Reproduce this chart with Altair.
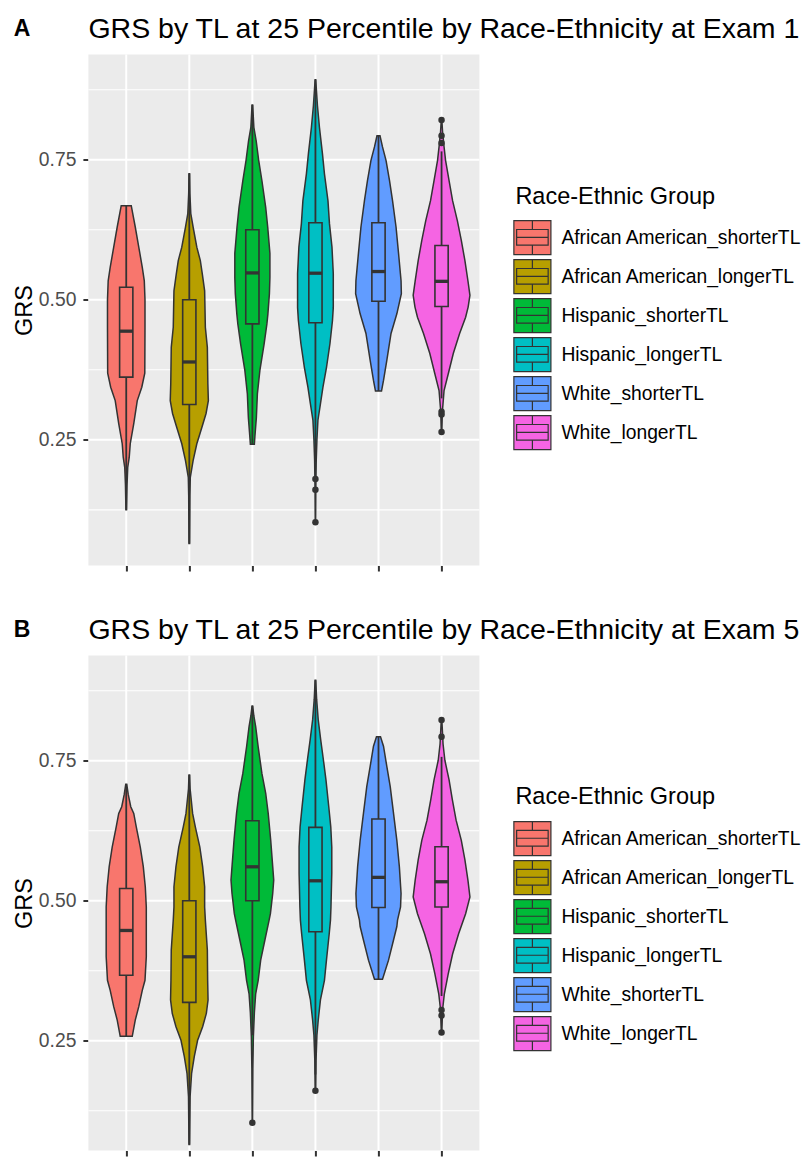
import altair as alt
import pandas as pd

GROUPS = ["African American_shorterTL", "African American_longerTL",
          "Hispanic_shorterTL", "Hispanic_longerTL",
          "White_shorterTL", "White_longerTL"]
COLORS = ["#F8766D", "#B79F00", "#00BA38", "#00BFC4", "#619CFF", "#F564E3"]
TITLES = ["GRS by TL at 25 Percentile by Race-Ethnicity at Exam 1",
          "GRS by TL at 25 Percentile by Race-Ethnicity at Exam 5"]
TAGS = ["A", "B"]
LEGEND_TITLE = "Race-Ethnic Group"
Y_TITLE = "GRS"
Y_TICKS = [0.25, 0.50, 0.75]
Y_MINOR = [0.125, 0.375, 0.625, 0.875]
X_TICKS = [1, 2, 3, 4, 5, 6]
X_RANGE = [0.4, 6.6]

# ---- Exam 1: violin outlines (GRS level, relative half width) ----
A_LEVELS = [
    [0.125, 0.17, 0.201, 0.219, 0.243, 0.279, 0.32, 0.344, 0.369, 0.45, 0.5, 0.534, 0.558, 0.594, 0.63, 0.668],
    [0.065, 0.15, 0.183, 0.213, 0.243, 0.272, 0.297, 0.32, 0.35, 0.415, 0.451, 0.516, 0.546, 0.57, 0.594, 0.63, 0.654, 0.69, 0.725],
    [0.242, 0.255, 0.29, 0.332, 0.374, 0.421, 0.457, 0.475, 0.511, 0.54, 0.583, 0.63, 0.665, 0.713, 0.749, 0.784, 0.808, 0.848],
    [0.103, 0.16, 0.213, 0.25, 0.285, 0.314, 0.344, 0.379, 0.422, 0.463, 0.486, 0.547, 0.594, 0.636, 0.677, 0.725, 0.761, 0.808, 0.847, 0.893],
    [0.337, 0.356, 0.392, 0.44, 0.475, 0.511, 0.534, 0.583, 0.63, 0.677, 0.713, 0.749, 0.773, 0.793],
    [0.264, 0.30, 0.338, 0.368, 0.404, 0.44, 0.469, 0.487, 0.508, 0.534, 0.57, 0.606, 0.641, 0.677, 0.713, 0.749, 0.773, 0.80, 0.821],
]
A_WIDTHS = [
    [0.3, 0.8, 1.5, 3, 4, 7.5, 11, 15.5, 18.5, 18.7, 18.7, 18, 16, 12.5, 9, 5],
    [0.3, 0.6, 1, 3.8, 7.5, 12.5, 16.7, 19, 18.5, 18, 16, 15.3, 13, 11, 7.5, 3.8, 1.5, 0.6, 0.3],
    [2, 2.5, 4, 5, 7.5, 11.7, 14.5, 15.5, 17, 17.5, 17.5, 15.3, 13.3, 9.5, 6.3, 3.8, 1.5, 0.3],
    [0.2, 0.4, 0.8, 1.5, 2.5, 5, 7.5, 11, 14.5, 17, 17.8, 17.8, 16.5, 14, 12.5, 9, 7, 4, 2, 0.3],
    [3, 5, 8.3, 12.5, 18.3, 22.8, 22.5, 20, 17.5, 14, 11, 7.5, 4, 1.5],
    [0.3, 0.8, 2.5, 6.7, 11.7, 18, 24, 26.5, 28.3, 26.3, 23.3, 19.7, 15.8, 11, 7.5, 4, 2.5, 1, 0.3],
]
A_LOWER = [0.125, 0.065, 0.242, 0.21, 0.337, 0.324]
A_Q1 = [0.362, 0.313, 0.457, 0.459, 0.4975, 0.488]
A_MEDIAN = [0.444, 0.389, 0.548, 0.5475, 0.5505, 0.533]
A_Q3 = [0.5225, 0.50, 0.625, 0.6375, 0.6375, 0.597]
A_UPPER = [0.668, 0.725, 0.848, 0.893, 0.793, 0.765]
A_OUTLIERS = [[], [], [], [0.180, 0.161, 0.103], [], [0.821, 0.793, 0.78, 0.30, 0.295, 0.264]]

# ---- Exam 5 ----
B_LEVELS = [
    [0.258, 0.287, 0.311, 0.34, 0.358, 0.40, 0.454, 0.489, 0.525, 0.561, 0.596, 0.632, 0.656, 0.668, 0.69, 0.708],
    [0.065, 0.15, 0.192, 0.222, 0.251, 0.275, 0.299, 0.323, 0.358, 0.412, 0.4655, 0.489, 0.525, 0.561, 0.596, 0.632, 0.656, 0.679, 0.70, 0.7245],
    [0.1036, 0.20, 0.257, 0.30, 0.334, 0.358, 0.394, 0.43, 0.4655, 0.477, 0.513, 0.537, 0.561, 0.608, 0.656, 0.692, 0.7275, 0.776, 0.811, 0.83, 0.8477],
    [0.1607, 0.215, 0.26, 0.287, 0.323, 0.358, 0.394, 0.442, 0.4655, 0.489, 0.549, 0.596, 0.632, 0.668, 0.716, 0.751, 0.787, 0.823, 0.86, 0.894],
    [0.36, 0.394, 0.43, 0.454, 0.4655, 0.489, 0.513, 0.561, 0.608, 0.656, 0.704, 0.74, 0.776, 0.793],
    [0.265, 0.305, 0.334, 0.37, 0.405, 0.441, 0.477, 0.507, 0.537, 0.573, 0.608, 0.644, 0.68, 0.716, 0.751, 0.78, 0.8227],
]
B_WIDTHS = [
    [6, 9, 12.5, 16, 18.7, 20, 20, 20, 19, 17, 14, 10, 7.5, 4.5, 2, 0.5],
    [0.3, 0.8, 2.3, 5, 8.3, 13.3, 17, 18.7, 18.3, 18, 16, 15.3, 15.3, 13.3, 10.5, 6, 3.3, 2, 0.8, 0.3],
    [0.2, 0.5, 1, 2, 3.3, 5.8, 8.3, 12.5, 16.7, 18, 20.3, 21.3, 20.3, 18.3, 15.8, 13.3, 9.5, 5.7, 3.3, 1.5, 0.3],
    [0.3, 0.6, 1.5, 2.8, 5, 9, 11, 13.8, 15, 15.5, 16.3, 16.3, 15.3, 13.3, 10.5, 8, 5.3, 2.8, 1.2, 0.3],
    [4, 10, 15, 18.3, 19, 22, 22.5, 20.8, 18.3, 15, 11.7, 8.3, 5, 2],
    [0.3, 1, 2.8, 6.7, 11, 17, 24, 28.3, 26.3, 23.3, 19.7, 14.5, 10.8, 7.5, 3.3, 1.5, 0.3],
]
B_LOWER = [0.258, 0.065, 0.26, 0.19, 0.36, 0.33]
B_Q1 = [0.367, 0.3186, 0.50, 0.4446, 0.488, 0.489]
B_MEDIAN = [0.447, 0.40, 0.5607, 0.5357, 0.5418, 0.534]
B_Q3 = [0.522, 0.50, 0.643, 0.631, 0.646, 0.5964]
B_UPPER = [0.708, 0.7245, 0.8477, 0.894, 0.793, 0.757]
B_OUTLIERS = [[], [], [0.1036], [0.1607], [], [0.8227, 0.793, 0.305, 0.295, 0.265]]

FONT = "Liberation Sans"
OUTLINE = "#333333"
PANEL_BG = "#EBEBEB"
VIOLIN_HALF = 0.45   # widest violin spans 0.9 of a category slot
BOX_HALF = 0.105

# legend key: filled key (violin) with a small boxplot glyph drawn on it
LEGEND_SYMBOL = ("M-1.14,-1.046H1.14V1.046H-1.14Z M-0.97,-0.5H0.97V0.46H-0.97Z "
                 "M-0.97,-0.02H0.97 M0,-1.046V-0.5 M0,0.46V1.046")


def panel(k, levels, widths, lower, q1, med, q3, upper, outliers, ydom, height):
    maxw = max(max(w) for w in widths)
    vrows = []
    for i, g in enumerate(GROUPS):
        for v, w in zip(levels[i], widths[i]):
            hw = w / maxw * VIOLIN_HALF
            vrows.append({"group": g, "grs": v, "xl": i + 1 - hw, "xr": i + 1 + hw})
    vio = pd.DataFrame(vrows).sort_values(["group", "grs"]).reset_index(drop=True)
    box = pd.DataFrame({
        "group": GROUPS, "x": X_TICKS,
        "xl": [x - BOX_HALF for x in X_TICKS], "xr": [x + BOX_HALF for x in X_TICKS],
        "lower": lower, "q1": q1, "median": med, "q3": q3, "upper": upper,
    })
    orows = [{"group": GROUPS[i], "x": i + 1, "grs": o}
             for i in range(len(GROUPS)) for o in outliers[i]]
    outs = pd.DataFrame(orows)
    bg = pd.DataFrame({"x0": [X_RANGE[0]], "x1": [X_RANGE[1]],
                       "y0": [ydom[0]], "y1": [ydom[1]]})
    major = pd.DataFrame({"v": Y_TICKS})
    minor = pd.DataFrame({"v": Y_MINOR})
    vgrid = pd.DataFrame({"x": X_TICKS})
    tag = pd.DataFrame({"t": [TAGS[k]]})
    head = pd.DataFrame({"t": [TITLES[k]]})

    xs = alt.Scale(domain=X_RANGE, nice=False, zero=False)
    ys = alt.Scale(domain=ydom, nice=False, zero=False)
    fs = alt.Scale(domain=GROUPS, range=COLORS)
    xaxis = alt.Axis(values=X_TICKS, labels=False, ticks=True, domain=False,
                     grid=False, tickColor=OUTLINE, tickWidth=2, tickSize=5.5)
    yaxis = alt.Axis(values=Y_TICKS, format=".2f", domain=False, grid=False,
                     tickColor=OUTLINE, tickWidth=2, tickSize=5.5, labelFontSize=19.3,
                     labelColor="#4D4D4D", labelPadding=7, titlePadding=2,
                     titleFontSize=23.5, titleFontWeight="normal",
                     titleColor="black", labelFont=FONT, titleFont=FONT)
    legend = alt.Legend(title=LEGEND_TITLE, orient="none", legendX=427, legendY=130,
                        titleFontSize=23.5, titleFontWeight="normal", titleColor="black",
                        titleFont=FONT, labelFont=FONT, labelFontSize=19.3,
                        labelColor="black", labelLimit=0, titleLimit=0,
                        symbolType=LEGEND_SYMBOL, symbolSize=1056,
                        symbolStrokeColor=OUTLINE, symbolStrokeWidth=1.2,
                        symbolOpacity=1, rowPadding=-1, labelOffset=12,
                        titlePadding=12.6, padding=0)

    def X(f, **kw):
        return alt.X(f, scale=xs, axis=xaxis, title=None, **kw)

    def Y(f):
        return alt.Y(f, scale=ys, axis=yaxis, title=Y_TITLE)

    fill = alt.Fill("group:N", scale=fs, legend=legend)

    background = alt.Chart(bg).mark_rect(color=PANEL_BG).encode(
        x=X("x0:Q"), x2="x1:Q", y=Y("y0:Q"), y2="y1:Q")
    minor_grid = alt.Chart(minor).mark_rule(color="white", strokeWidth=1.1).encode(
        y=Y("v:Q"))
    major_grid = alt.Chart(major).mark_rule(color="white", strokeWidth=2.0).encode(
        y=Y("v:Q"))
    x_grid = alt.Chart(vgrid).mark_rule(color="white", strokeWidth=2.0).encode(
        x=X("x:Q"))
    violins = alt.Chart(vio).mark_area(
        orient="horizontal", stroke=OUTLINE, strokeWidth=1.5, opacity=1,
        interpolate="linear").encode(
        y=Y("grs:Q"), x=X("xl:Q", stack=None), x2="xr:Q", fill=fill,
        detail="group:N")
    whiskers = alt.Chart(box).mark_rule(color=OUTLINE, strokeWidth=1.8).encode(
        x=X("x:Q"), y=Y("lower:Q"), y2="upper:Q")
    boxes = alt.Chart(box).mark_rect(stroke=OUTLINE, strokeWidth=1.6, opacity=1).encode(
        x=X("xl:Q"), x2="xr:Q", y=Y("q1:Q"), y2="q3:Q", fill=fill)
    medians = alt.Chart(box).mark_rule(color=OUTLINE, strokeWidth=3.3).encode(
        x=X("xl:Q"), x2="xr:Q", y=Y("median:Q"))
    points = alt.Chart(outs).mark_circle(color=OUTLINE, size=42, opacity=1).encode(
        x=X("x:Q"), y=Y("grs:Q"))
    tagtext = alt.Chart(tag).mark_text(
        font=FONT, fontSize=23, fontWeight="bold", align="left",
        baseline="alphabetic", color="black").encode(
        text="t:N", x=alt.value(-74.7), y=alt.value(-18.5))
    headtext = alt.Chart(head).mark_text(
        font=FONT, fontSize=28.5, fontWeight="normal", align="left",
        baseline="alphabetic", color="black").encode(
        text="t:N", x=alt.value(0), y=alt.value(-16.5))

    return alt.layer(background, minor_grid, major_grid, x_grid, violins, whiskers,
                     boxes, medians, points, tagtext, headtext).properties(
        width=391, height=height)


pA = panel(0, A_LEVELS, A_WIDTHS, A_LOWER, A_Q1, A_MEDIAN, A_Q3, A_UPPER, A_OUTLIERS,
           [0.0256, 0.938], 511)
pB = panel(1, B_LEVELS, B_WIDTHS, B_LOWER, B_Q1, B_MEDIAN, B_Q3, B_UPPER, B_OUTLIERS,
           [0.0541, 0.938], 495)

chart = alt.vconcat(pA, pB, spacing=43).resolve_scale(
    x="independent", y="independent", fill="independent").resolve_legend(
    fill="independent").properties(
    padding={"left": 3.4, "top": 6.5, "right": 0, "bottom": 0}).configure(
    font=FONT).configure_view(stroke=None)

chart.save("out.html", embed_options={"renderer": "svg", "actions": False})
